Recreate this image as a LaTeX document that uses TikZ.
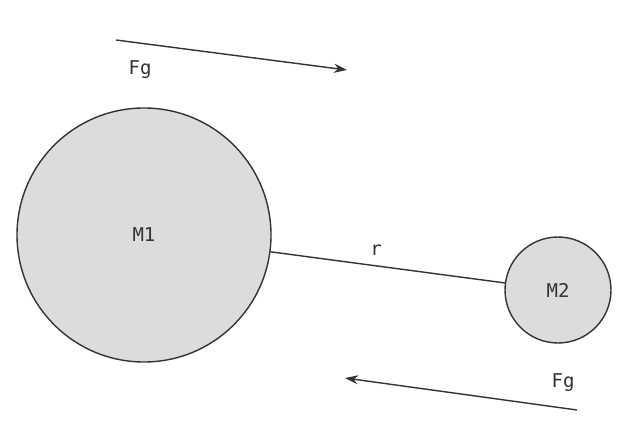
\documentclass[tikz,border=0pt]{standalone}
\usepackage{fontspec}
\setmonofont{DejaVu Sans Mono}
\usetikzlibrary{arrows.meta,positioning}
\definecolor{massfill}{HTML}{DCDCDC}
\definecolor{inkgray}{HTML}{333333}
\begin{document}
\begin{tikzpicture}[
    x=1pt, y=-1pt,
    mass/.style={circle, draw=inkgray, line width=1.4pt, fill=massfill, inner sep=0},
    lbl/.style={font=\fontsize{19}{22}\selectfont\ttfamily, text=inkgray},
    force/.style={draw=inkgray, line width=1.4pt, -{Stealth[length=13pt,width=9pt]}}]
\useasboundingbox (0,0) rectangle (624,436);
\node (m1) [mass, minimum size=254pt] at (144,235) {};
\node (m2) [mass, minimum size=106pt] at (558,290) {};
\node (m1lbl) [lbl] at (m1) {M1};
\node (m2lbl) [lbl] at (m2) {M2};
\draw [draw=inkgray, line width=1.4pt] (m1) -- (m2) node (rlbl) [lbl, pos=0.45, above=6pt] {r};

\coordinate (topa) at (116,40);
\coordinate (topb) at (347,70);
\coordinate (bota) at (577,410);
\coordinate (botb) at (345,378);
\draw [force] (topa) -- (topb);
\draw [force] (bota) -- (botb);
\node (fgtop) [lbl] at (140,70) {Fg};
\node (fgbot) [lbl] at (563,383) {Fg};
\end{tikzpicture}
\end{document}
